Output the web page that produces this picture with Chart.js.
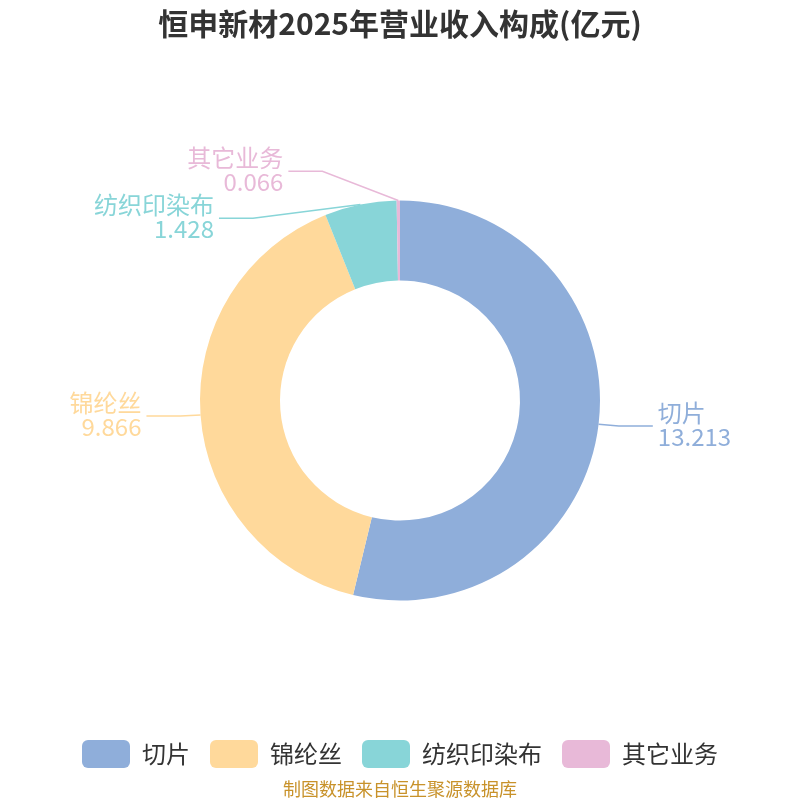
<!DOCTYPE html>
<html><head><meta charset="utf-8">
<script src="https://cdn.jsdelivr.net/npm/chart.js@4/dist/chart.umd.min.js"></script>
<style>html,body{margin:0;padding:0;background:#fff}#wrap{width:800px;height:800px}</style>
</head><body><div id="wrap"><canvas id="c" width="800" height="800"></canvas></div>
<script>
const titleText = '恒申新材2025年营业收入构成(亿元)';
const sourceText = '制图数据来自恒生聚源数据库';
const categories = ['切片', '锦纶丝', '纺织印染布', '其它业务'];
const values = [13.213, 9.866, 1.428, 0.066];
const valueLabels = ['13.213', '9.866', '1.428', '0.066'];
const colors = ['#8FAEDA', '#FFD99B', '#88D5D8', '#E8B9D8'];
const FONT = '"Noto Sans CJK SC", "Noto Sans", sans-serif';

const decorPlugin = {
  id: 'decor',
  afterDraw(chart) {
    const ctx = chart.ctx;
    ctx.save();
    ctx.fillStyle = '#333333';
    ctx.font = 'bold 30px ' + FONT;
    ctx.textAlign = 'center';
    ctx.textBaseline = 'middle';
    ctx.fillText(titleText, 400, 24);
    ctx.fillStyle = '#C8922A';
    ctx.font = '18px ' + FONT;
    ctx.fillText(sourceText, 400, 789);
    ctx.restore();
  }
};

const labelPlugin = {
  id: 'outLabels',
  afterDatasetsDraw(chart) {
    const ctx = chart.ctx;
    const meta = chart.getDatasetMeta(0);
    const items = [];
    meta.data.forEach((arc, i) => {
      const p = arc.getProps(['x', 'y', 'startAngle', 'endAngle', 'outerRadius'], true);
      const mid = (p.startAngle + p.endAngle) / 2;
      const ax = p.x + Math.cos(mid) * p.outerRadius;
      const ay = p.y + Math.sin(mid) * p.outerRadius;
      const rn = p.outerRadius + 15;
      const side = Math.cos(mid) >= 0 ? 1 : -1;
      items.push({i, cx: p.x, cy: p.y, ax, ay, y: p.y + Math.sin(mid) * rn, side, r: p.outerRadius});
    });
    const gap = 47;
    [1, -1].forEach(s => {
      const list = items.filter(it => it.side === s).sort((a, b) => a.y - b.y);
      let cluster = list.length ? [list[0]] : [];
      let push = 0;
      const flush = () => {
        if (push > 0) cluster.forEach(it => { it.y -= push / 3; });
      };
      for (let k = 1; k < list.length; k++) {
        const need = list[k - 1].y + gap;
        if (list[k].y < need) {
          push += need - list[k].y; list[k].y = need; cluster.push(list[k]);
        } else {
          flush(); cluster = [list[k]]; push = 0;
        }
      }
      flush();
    });
    items.forEach(it => {
      const rA = it.r + 20, rB = it.r + 45;
      const dy = it.y - it.cy;
      const f = Math.sqrt(Math.max(0, 1 - (dy * dy) / (rB * rB)));
      const ex = it.cx + it.side * rA * f;
      const hx = ex + it.side * 34;
      ctx.save();
      ctx.strokeStyle = colors[it.i];
      ctx.lineWidth = 1.5;
      ctx.beginPath();
      ctx.moveTo(it.ax, it.ay);
      ctx.lineTo(ex, it.y);
      ctx.lineTo(hx, it.y);
      ctx.stroke();
      ctx.fillStyle = colors[it.i];
      ctx.font = '24px ' + FONT;
      ctx.textAlign = it.side > 0 ? 'left' : 'right';
      ctx.textBaseline = 'middle';
      const tx = hx + it.side * 5;
      ctx.fillText(categories[it.i], tx, it.y - 13);
      ctx.fillText(valueLabels[it.i], tx, it.y + 11);
      ctx.restore();
    });
  }
};

new Chart(document.getElementById('c'), {
  type: 'doughnut',
  data: {
    labels: categories,
    datasets: [{
      data: values,
      backgroundColor: colors,
      borderWidth: 0,
      radius: 200,
      cutout: '60%'
    }]
  },
  options: {
    responsive: false,
    animation: false,
    layout: { padding: { top: 81, bottom: 22, left: 0, right: 0 } },
    plugins: {
      title: { display: false },
      tooltip: { enabled: false },
      legend: {
        display: true,
        position: 'bottom',
        labels: {
          boxWidth: 48,
          boxHeight: 28,
          padding: 20,
          color: '#333333',
          font: { size: 24, family: FONT },
          generateLabels(chart) {
            return chart.data.labels.map((t, i) => ({
              text: t, fillStyle: colors[i], strokeStyle: colors[i], lineWidth: 0,
              borderRadius: 6, fontColor: '#333333', hidden: false, index: i
            }));
          }
        }
      }
    }
  },
  plugins: [labelPlugin, decorPlugin]
});
</script>
</body></html>
